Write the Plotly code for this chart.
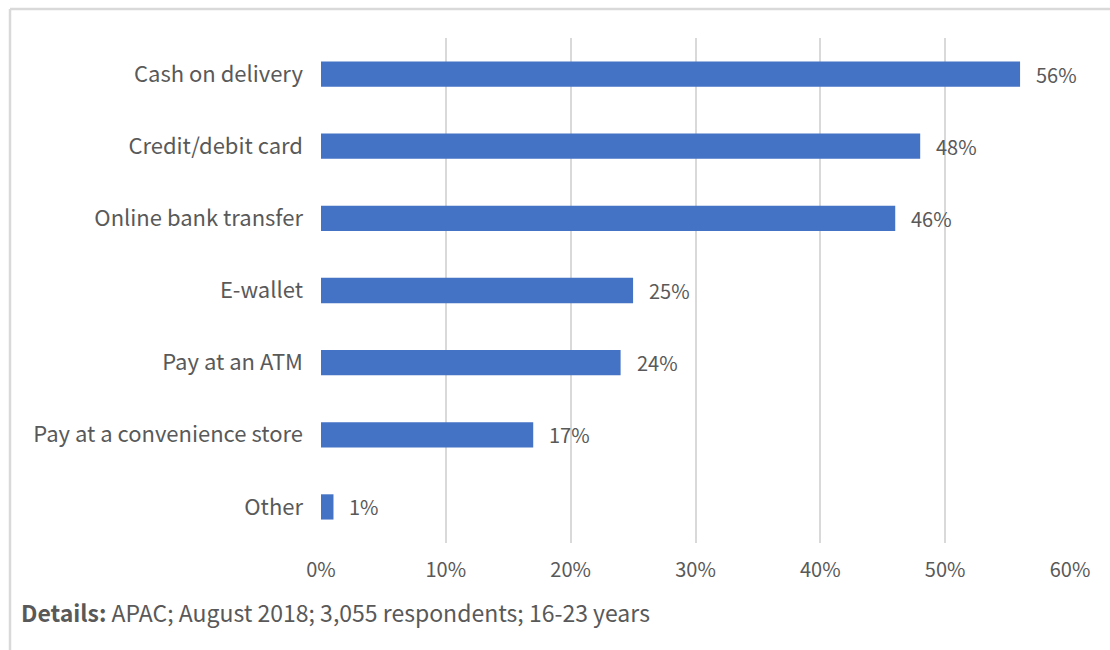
import plotly.graph_objects as go

# Payment methods (top to bottom) and share of respondents
methods = [
    "Cash on delivery",
    "Credit/debit card",
    "Online bank transfer",
    "E-wallet",
    "Pay at an ATM",
    "Pay at a convenience store",
    "Other",
]
shares = [56, 48, 46, 25, 24, 17, 1]
x_ticks = [0, 10, 20, 30, 40, 50, 60]
x_tick_labels = ["0%", "10%", "20%", "30%", "40%", "50%", "60%"]
note_label = "Details:"
note_text = "APAC; August 2018; 3,055 respondents; 16-23 years"

W, H = 1110, 650
L, R, T, B = 321, 40, 38, 107
FONT = "Noto Sans CJK SC"
TEXT_COLOR = "#595959"

fig = go.Figure(
    go.Bar(
        y=methods,
        x=shares,
        orientation="h",
        marker=dict(color="#4472C4", line=dict(width=0)),
        width=0.35,
        hoverinfo="skip",
    )
)

# Value labels just past the end of each bar
for m, v in zip(methods, shares):
    fig.add_annotation(
        x=v, y=m, xref="x", yref="y",
        text=f"{v}%",
        xanchor="left", yanchor="middle",
        xshift=14,
        showarrow=False,
        font=dict(family=FONT, size=20, color=TEXT_COLOR),
    )

fig.update_layout(
    width=W,
    height=H,
    margin=dict(l=L, r=R, t=T, b=B),
    paper_bgcolor="white",
    plot_bgcolor="white",
    showlegend=False,
    font=dict(family=FONT, size=20, color=TEXT_COLOR),
    xaxis=dict(
        range=[0, 60],
        tickvals=x_ticks,
        ticktext=x_tick_labels,
        showgrid=True,
        gridcolor="#d9d9d9",
        gridwidth=2,
        zeroline=False,
        showline=False,
        ticks="",
        ticklabelstandoff=13,
        tickfont=dict(family=FONT, size=20, color=TEXT_COLOR),
        fixedrange=True,
    ),
    yaxis=dict(
        categoryorder="array",
        categoryarray=methods[::-1],
        showgrid=False,
        zeroline=False,
        showline=False,
        ticks="",
        ticklabelstandoff=17,
        tickfont=dict(family=FONT, size=22, color=TEXT_COLOR),
        fixedrange=True,
    ),
)

# Pixel -> paper helpers for the frame and footnote
pw, ph = W - L - R, H - T - B


def px_x(px):
    return (px - L) / pw


def px_y(py):
    return 1 - (py - T) / ph


fig.add_shape(type="line", xref="paper", yref="paper",
              x0=px_x(10), x1=px_x(W + 5), y0=px_y(9), y1=px_y(9),
              line=dict(color="#d9d9d9", width=2.5))
fig.add_shape(type="line", xref="paper", yref="paper",
              x0=px_x(10), x1=px_x(10), y0=px_y(9), y1=px_y(H + 5),
              line=dict(color="#d9d9d9", width=2.5))

fig.add_annotation(
    xref="paper", yref="paper",
    x=px_x(19), y=px_y(612),
    xanchor="left", yanchor="middle",
    text=f"<b>{note_label}</b> {note_text}",
    showarrow=False,
    font=dict(family=FONT, size=23, color=TEXT_COLOR),
)

fig.write_html("out.html")
